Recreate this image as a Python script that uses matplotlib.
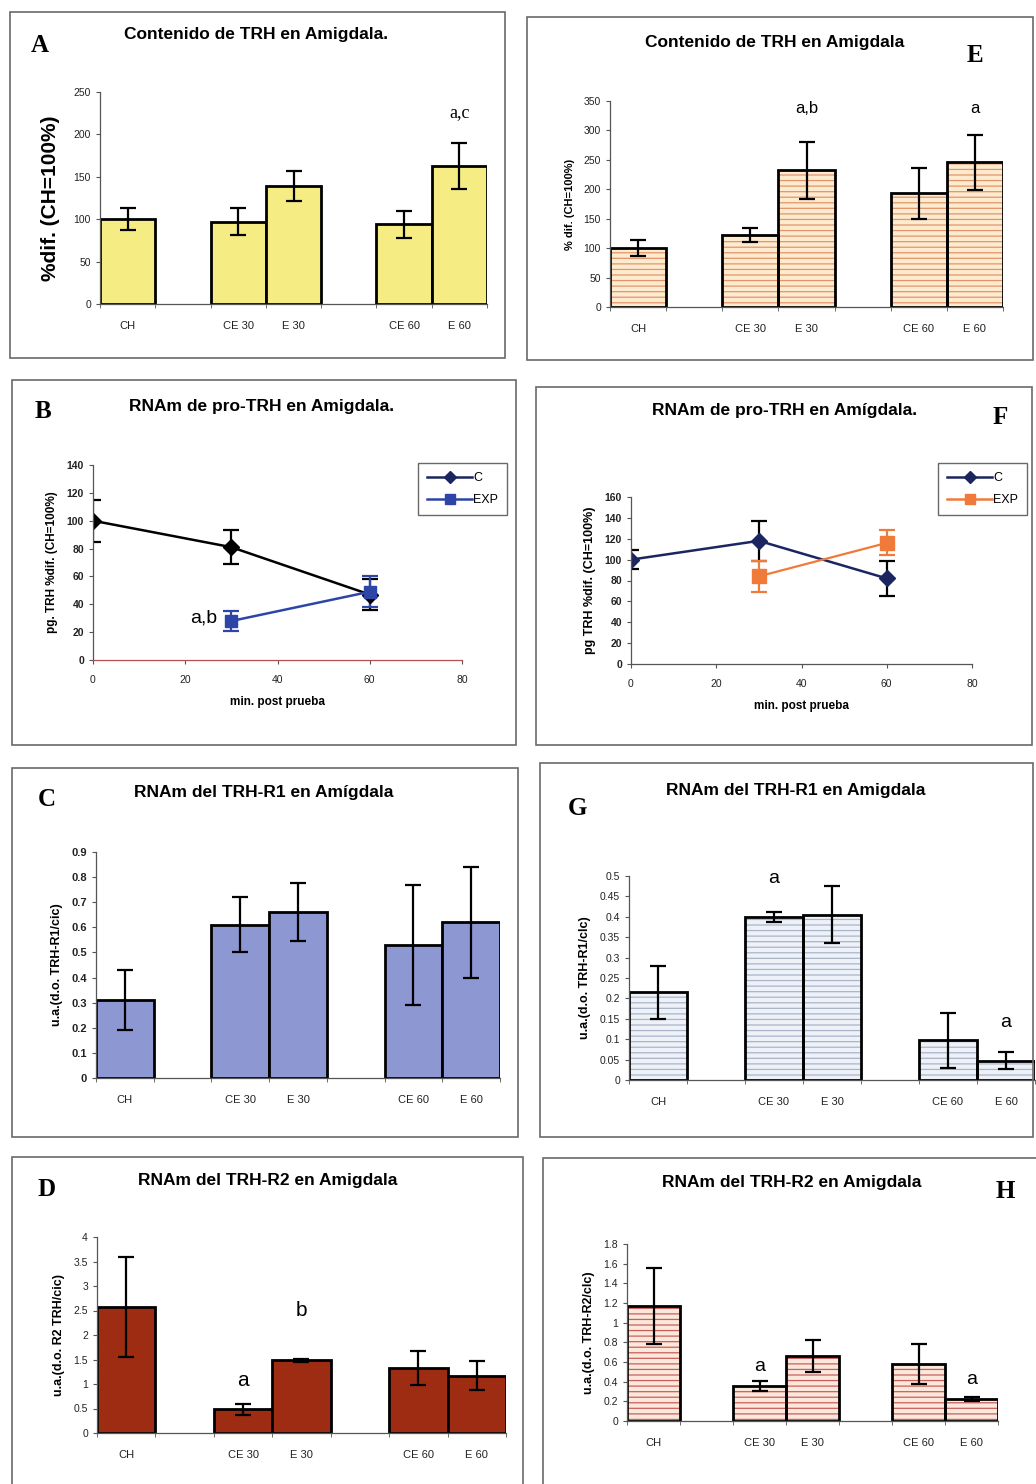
import matplotlib
matplotlib.use("Agg")
import matplotlib.pyplot as plt
from matplotlib.patches import Rectangle
from matplotlib.lines import Line2D

W, H = 1036, 1484
plt.rcParams['font.family'] = ['Liberation Sans', 'DejaVu Sans']
plt.rcParams['hatch.linewidth'] = 0.9

# ---- datos ----
grupos = ['CH', 'CE 30', 'E 30', 'CE 60', 'E 60']
pos = [0, 2, 3, 5, 6]

trh_a = [100, 97, 139, 94, 163]
trh_a_err = [13, 16, 18, 16, 27]

trh_e = [100, 122, 232, 193, 246]
trh_e_err = [14, 12, 48, 44, 47]

minutos_c = [0, 30, 60]
minutos_exp = [30, 60]
prob_c = [100, 81, 47]
prob_c_err = [15, 12, 11]
prob_exp = [28, 49]
prob_exp_err = [7, 11]

prof_c = [100, 118, 82]
prof_c_err = [9, 19, 17]
prof_exp = [84, 116]
prof_exp_err = [15, 12]

r1_c = [0.31, 0.61, 0.66, 0.53, 0.62]
r1_c_err = [0.12, 0.11, 0.115, 0.24, 0.22]

r1_g = [0.215, 0.40, 0.405, 0.097, 0.047]
r1_g_err = [0.065, 0.012, 0.07, 0.067, 0.021]

r2_d = [2.58, 0.48, 1.48, 1.33, 1.17]
r2_d_err = [1.02, 0.12, 0.04, 0.35, 0.30]

r2_h = [1.17, 0.36, 0.66, 0.58, 0.22]
r2_h_err = [0.39, 0.05, 0.16, 0.20, 0.02]

fig = plt.figure(figsize=(W / 100, H / 100), dpi=100)


def px_axes(x0, ytop, x1, ybot):
    return fig.add_axes([x0 / W, 1 - ybot / H, (x1 - x0) / W, (ybot - ytop) / H])


def caja(x0, y0, x1, y1):
    fig.patches.append(Rectangle((x0 / W, 1 - y1 / H), (x1 - x0) / W, (y1 - y0) / H,
                                 transform=fig.transFigure, fill=False,
                                 edgecolor='#6a6a6a', lw=1.2))


def texto(x, y, s, **kw):
    fig.text(x / W, 1 - y / H, s, **kw)


def estilo(ax, tick_bold=False, fs=7.5):
    for s in ['top', 'right']:
        ax.spines[s].set_visible(False)
    for s in ['left', 'bottom']:
        ax.spines[s].set_color('#555555')
        ax.spines[s].set_linewidth(0.9)
    ax.tick_params(direction='out', length=3, width=0.8, colors='#555555',
                   labelcolor='#222222', labelsize=fs)
    if tick_bold:
        for t in ax.get_yticklabels():
            t.set_fontweight('bold')


def barras(ax, vals, errs, color, ymax, ystep, hatch=None, hcolor=None, fs=7.5, tick_bold=False):
    if hatch:
        ax.bar(pos, vals, width=1.0, color=color, edgecolor=hcolor, hatch=hatch, lw=0)
        ax.bar(pos, vals, width=1.0, fill=False, edgecolor='black', lw=2)
    else:
        ax.bar(pos, vals, width=1.0, color=color, edgecolor='black', lw=2)
    ax.errorbar(pos, vals, yerr=errs, fmt='none', ecolor='black', elinewidth=1.6,
                capsize=6, capthick=1.6)
    ax.set_xlim(-0.5, 6.5)
    ax.set_ylim(0, ymax)
    n = int(round(ymax / ystep))
    ticks = [round(i * ystep, 3) for i in range(n + 1)]
    ax.set_yticks(ticks)
    ax.set_yticklabels(['%g' % t for t in ticks])
    ax.set_xticks(pos)
    ax.set_xticklabels(grupos)
    ax.set_xticks([p - 0.5 for p in range(8)], minor=True)
    estilo(ax, tick_bold, fs)
    ax.tick_params(axis='x', which='major', length=0, pad=12, labelsize=8)
    ax.tick_params(axis='x', which='minor', length=3, color='#555555')


def leyenda(ax, color_exp, x, y):
    leg = ax.legend(handles=[Line2D([], [], color='#1b2560', marker='D', ms=6, lw=1.8),
                             Line2D([], [], color=color_exp, marker='s', ms=7, lw=1.8)],
                    labels=['C', 'EXP'], loc='upper left', bbox_to_anchor=(x / W, 1 - y / H),
                    bbox_transform=fig.transFigure, fontsize=9, frameon=True, fancybox=False,
                    edgecolor='#444444', handlelength=3.6, handletextpad=0.1, borderpad=0.7,
                    labelspacing=0.8)
    leg.get_frame().set_linewidth(1)


# ---- A ----
caja(10, 12, 505, 358)
ax = px_axes(100, 92, 487, 304)
barras(ax, trh_a, trh_a_err, '#f5ec84', 250, 50)
ax.set_ylabel('%dif. (CH=100%)', fontsize=15, fontweight='bold', labelpad=10)
ax.text(6, 226, 'a,c', ha='center', va='center', fontsize=13, family='Liberation Serif')
texto(256, 35, 'Contenido de TRH en Amigdala.', ha='center', va='center', fontsize=12.5, fontweight='bold')
texto(40, 45, 'A', ha='center', va='center', fontsize=18, fontweight='bold', family='Liberation Serif')

# ---- E ----
caja(527, 17, 1033, 360)
ax = px_axes(610, 101, 1003, 307)
barras(ax, trh_e, trh_e_err, '#fdebd0', 350, 50, hatch='---', hcolor='#e3946a')
ax.set_ylabel('% dif. (CH=100%)', fontsize=8, fontweight='bold', labelpad=6)
ax.text(3, 338, 'a,b', ha='center', va='center', fontsize=12)
ax.text(6, 338, 'a', ha='center', va='center', fontsize=12)
texto(775, 43, 'Contenido de TRH en Amigdala', ha='center', va='center', fontsize=12.5, fontweight='bold')
texto(975, 55, 'E', ha='center', va='center', fontsize=18, fontweight='bold', family='Liberation Serif')

# ---- B ----
caja(12, 380, 516, 745)
ax = px_axes(93, 465, 462, 660)
ax.errorbar(minutos_c, prob_c, yerr=prob_c_err, color='black', marker='D', ms=8,
            lw=1.8, elinewidth=1.6, capsize=6, capthick=1.6)
ax.errorbar(minutos_exp, prob_exp, yerr=prob_exp_err, color='#2e45a8', ecolor='#2e45a8',
            marker='s', ms=8, lw=1.8, elinewidth=1.6, capsize=6, capthick=1.6)
ax.set_xlim(0, 80)
ax.set_ylim(0, 140)
ax.set_xticks(range(0, 81, 20))
ax.set_yticks(range(0, 141, 20))
estilo(ax, tick_bold=True)
ax.tick_params(axis='x', pad=8)
ax.spines['bottom'].set_color('#b05050')
ax.set_xlabel('min. post prueba', fontsize=8.5, fontweight='bold', labelpad=8)
ax.set_ylabel('pg. TRH %dif. (CH=100%)', fontsize=8.5, fontweight='bold', labelpad=6)
ax.text(24, 30, 'a,b', ha='center', va='center', fontsize=14)
leyenda(ax, '#2e45a8', 412, 457)
texto(262, 407, 'RNAm de pro-TRH en Amigdala.', ha='center', va='center', fontsize=12.5, fontweight='bold')
texto(43, 412, 'B', ha='center', va='center', fontsize=18, fontweight='bold', family='Liberation Serif')

# ---- F ----
caja(536, 387, 1032, 745)
ax = px_axes(631, 497, 972, 664)
ax.errorbar(minutos_c, prof_c, yerr=prof_c_err, color='#1b2560', ecolor='black', marker='D', ms=8,
            lw=1.8, elinewidth=1.6, capsize=6, capthick=1.6)
ax.errorbar(minutos_exp, prof_exp, yerr=prof_exp_err, color='#f07a3a', ecolor='#f07a3a',
            marker='s', ms=10, lw=1.6, elinewidth=1.6, capsize=6, capthick=1.6)
ax.set_xlim(0, 80)
ax.set_ylim(0, 160)
ax.set_xticks(range(0, 81, 20))
ax.set_yticks(range(0, 161, 20))
estilo(ax, tick_bold=True)
ax.tick_params(axis='x', pad=8)
ax.set_xlabel('min. post prueba', fontsize=8.5, fontweight='bold', labelpad=8)
ax.set_ylabel('pg TRH %dif. (CH=100%)', fontsize=9, fontweight='bold', labelpad=6)
leyenda(ax, '#f07a3a', 932, 457)
texto(785, 411, 'RNAm de pro-TRH en Amígdala.', ha='center', va='center', fontsize=12.5, fontweight='bold')
texto(1000, 417, 'F', ha='center', va='center', fontsize=18, fontweight='bold', family='Liberation Serif')

# ---- C ----
caja(12, 768, 518, 1137)
ax = px_axes(96, 852, 500, 1078)
barras(ax, r1_c, r1_c_err, '#8d97d2', 0.9, 0.1, fs=8, tick_bold=True)
ax.set_ylabel('u.a.(d.o. TRH-R1/cic)', fontsize=9, fontweight='bold', labelpad=6)
texto(264, 793, 'RNAm del TRH-R1 en Amígdala', ha='center', va='center', fontsize=12.5, fontweight='bold')
texto(47, 800, 'C', ha='center', va='center', fontsize=18, fontweight='bold', family='Liberation Serif')

# ---- G ----
caja(540, 763, 1033, 1137)
ax = px_axes(629, 876, 1035, 1080)
barras(ax, r1_g, r1_g_err, '#eef2f8', 0.5, 0.05, hatch='---', hcolor='#a9b4c8')
ax.set_ylabel('u.a.(d.o. TRH-R1/clc)', fontsize=9, fontweight='bold', labelpad=6)
ax.text(2, 0.495, 'a', ha='center', va='center', fontsize=14)
ax.text(6, 0.142, 'a', ha='center', va='center', fontsize=14)
texto(796, 790, 'RNAm del TRH-R1 en Amigdala', ha='center', va='center', fontsize=12.5, fontweight='bold')
texto(577, 808, 'G', ha='center', va='center', fontsize=18, fontweight='bold', family='Liberation Serif')

# ---- D ----
caja(12, 1157, 523, 1492)
ax = px_axes(97, 1237, 506, 1433)
barras(ax, r2_d, r2_d_err, '#9d2c13', 4, 0.5)
ax.set_ylabel('u.a.(d.o. R2 TRH/cic)', fontsize=9, fontweight='bold', labelpad=6)
ax.text(2, 1.08, 'a', ha='center', va='center', fontsize=15)
ax.text(3, 2.5, 'b', ha='center', va='center', fontsize=15)
texto(268, 1180, 'RNAm del TRH-R2 en Amigdala', ha='center', va='center', fontsize=12.5, fontweight='bold')
texto(47, 1190, 'D', ha='center', va='center', fontsize=18, fontweight='bold', family='Liberation Serif')

# ---- H ----
caja(543, 1158, 1040, 1492)
ax = px_axes(627, 1244, 998, 1421)
barras(ax, r2_h, r2_h_err, '#fbe7dc', 1.8, 0.2, hatch='---', hcolor='#c8605a')
ax.set_ylabel('u.a.(d.o. TRH-R2/clc)', fontsize=9, fontweight='bold', labelpad=6)
ax.text(2, 0.55, 'a', ha='center', va='center', fontsize=14)
ax.text(6, 0.42, 'a', ha='center', va='center', fontsize=14)
texto(792, 1183, 'RNAm del TRH-R2 en Amigdala', ha='center', va='center', fontsize=12.5, fontweight='bold')
texto(1005, 1192, 'H', ha='center', va='center', fontsize=18, fontweight='bold', family='Liberation Serif')

fig.savefig('out.png', dpi=100)
